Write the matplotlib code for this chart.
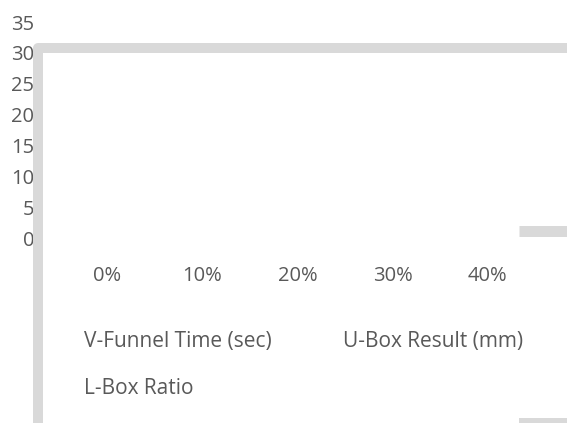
import matplotlib
matplotlib.use("Agg")
import matplotlib.pyplot as plt
from matplotlib.lines import Line2D

# chart data
categories = ["0%", "10%", "20%", "30%", "40%"]
series_names = ["V-Funnel Time (sec)", "U-Box Result (mm)", "L-Box Ratio"]
series_values = [[], [], []]
y_ticks = [0, 5, 10, 15, 20, 25, 30, 35]

W, H = 567, 423
txt = "#595959"
frame = "#d9d9d9"
fs = 14.5

plt.rcParams["font.family"] = ["Open Sans", "DejaVu Sans"]

fig = plt.figure(figsize=(W / 100, H / 100), dpi=100)


def px(x0, y0, x1, y1):
    # pixel box (from top left) -> figure fraction rect
    return [x0 / W, 1 - y1 / H, (x1 - x0) / W, (y1 - y0) / H]


ax = fig.add_axes(px(59.5, 22, 535.5, 238))
for name, vals in zip(series_names, series_values):
    ax.plot(range(len(vals)), vals, label=name)

ax.set_xlim(-0.5, len(categories) - 0.5)
ax.set_ylim(0, 35)
ax.set_xticks(range(len(categories)))
ax.set_xticklabels(categories)
ax.set_yticks(y_ticks)
for s in ax.spines.values():
    s.set_visible(False)
ax.tick_params(axis="both", length=0, colors=txt, labelsize=fs)
ax.tick_params(axis="y", pad=18)
ax.tick_params(axis="x", pad=20)

handles = [Line2D([], [], color="none") for _ in series_names]
order = [0, 2, 1]
leg = fig.legend([handles[i] for i in order], [series_names[i] for i in order],
                 ncol=2, loc="upper left", bbox_to_anchor=(65 / W, 1 - 312 / H),
                 frameon=False, handlelength=0, handletextpad=0,
                 columnspacing=3.45, labelspacing=1.26, fontsize=15)
for t in leg.get_texts():
    t.set_color(txt)


def bar(xs, ys, lw):
    fig.add_artist(Line2D([x / W for x in xs], [1 - y / H for y in ys],
                          transform=fig.transFigure, color=frame,
                          linewidth=lw * 0.72, solid_joinstyle="round",
                          solid_capstyle="butt", zorder=5))


# border pieces
bar([38, 38, 567], [423, 48, 48], 10)
bar([519, 567], [231, 231], 11)
bar([519, 567], [423, 423], 10)

fig.savefig("out.png", dpi=100)
